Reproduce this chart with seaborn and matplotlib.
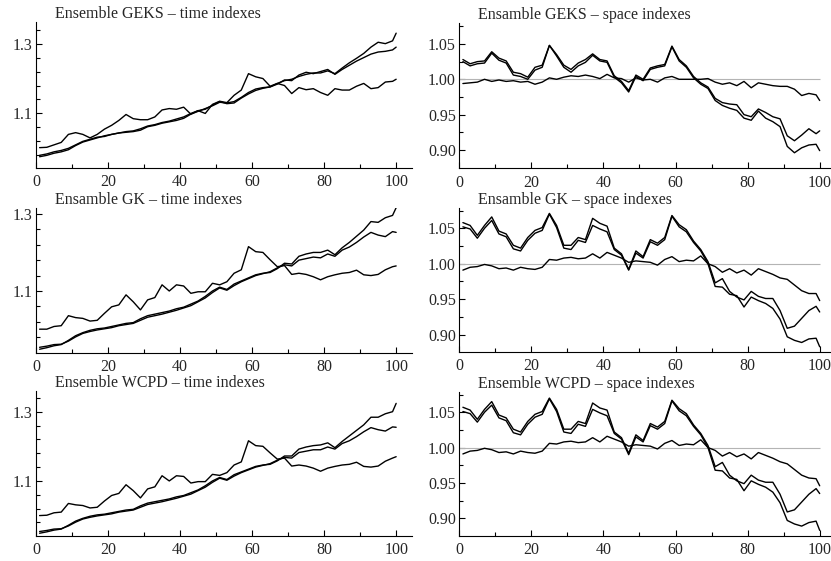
import numpy as np
import pandas as pd
import matplotlib
matplotlib.use("Agg")
import matplotlib.pyplot as plt
import seaborn as sns
from matplotlib.ticker import FixedLocator, FixedFormatter

sns.set_style("ticks")
plt.rcParams['font.family'] = ['Liberation Serif', 'DejaVu Serif']

# ---------------- data ----------------
T = list(range(1, 100, 2)) + [100]

GEKS_TIME_A = [1.002, 1.003, 1.010, 1.017, 1.040, 1.045, 1.040, 1.030, 1.040, 1.055,
               1.066, 1.080, 1.097, 1.085, 1.082, 1.082, 1.090, 1.110, 1.114, 1.112,
               1.118, 1.098, 1.108, 1.100, 1.126, 1.135, 1.131, 1.152, 1.167, 1.214,
               1.205, 1.200, 1.178, 1.186, 1.180, 1.157, 1.174, 1.168, 1.171, 1.160,
               1.152, 1.171, 1.167, 1.167, 1.178, 1.186, 1.171, 1.174, 1.190, 1.192, 1.198]
GEKS_TIME_B = [0.976, 0.980, 0.986, 0.990, 0.996, 1.008, 1.018, 1.024, 1.030, 1.036,
               1.040, 1.044, 1.046, 1.048, 1.052, 1.062, 1.066, 1.072, 1.076, 1.080,
               1.086, 1.098, 1.106, 1.114, 1.122, 1.132, 1.130, 1.134, 1.146, 1.160,
               1.170, 1.174, 1.176, 1.186, 1.194, 1.198, 1.206, 1.212, 1.216, 1.216,
               1.222, 1.214, 1.230, 1.245, 1.258, 1.272, 1.290, 1.304, 1.300, 1.308, 1.330]
GEKS_TIME_C = [0.980, 0.984, 0.990, 0.994, 1.000, 1.010, 1.020, 1.026, 1.032, 1.034,
               1.040, 1.044, 1.048, 1.050, 1.056, 1.064, 1.068, 1.074, 1.078, 1.084,
               1.090, 1.100, 1.108, 1.112, 1.124, 1.134, 1.128, 1.130, 1.144, 1.156,
               1.166, 1.172, 1.176, 1.184, 1.196, 1.194, 1.210, 1.218, 1.214, 1.220,
               1.226, 1.212, 1.226, 1.238, 1.250, 1.260, 1.270, 1.276, 1.278, 1.282, 1.290]

GEKS_SPACE_D = [0.994, 0.995, 0.996, 1.000, 0.997, 0.999, 0.997, 0.998, 0.996, 0.997,
                0.993, 0.996, 1.002, 1.000, 1.003, 1.005, 1.004, 1.006, 1.004, 1.001,
                1.007, 1.002, 1.001, 0.996, 1.002, 0.999, 1.000, 0.996, 1.002, 1.004,
                1.000, 1.000, 1.000, 1.000, 1.001, 0.996, 0.993, 0.995, 0.991, 0.997,
                0.988, 0.995, 0.993, 0.991, 0.990, 0.990, 0.986, 0.977, 0.980, 0.978, 0.970]
GEKS_SPACE_E = [1.028, 1.022, 1.025, 1.026, 1.039, 1.030, 1.026, 1.010, 1.008, 1.003,
                1.017, 1.020, 1.048, 1.035, 1.020, 1.014, 1.023, 1.028, 1.036, 1.028,
                1.026, 1.005, 0.997, 0.984, 1.006, 1.000, 1.016, 1.019, 1.021, 1.047,
                1.028, 1.019, 1.004, 0.995, 0.989, 0.973, 0.967, 0.965, 0.964, 0.950,
                0.947, 0.958, 0.953, 0.947, 0.944, 0.920, 0.913, 0.921, 0.930, 0.923, 0.927]
GEKS_SPACE_F = [1.025, 1.019, 1.022, 1.023, 1.037, 1.027, 1.023, 1.006, 1.004, 1.000,
                1.013, 1.017, 1.048, 1.033, 1.017, 1.010, 1.019, 1.024, 1.034, 1.026,
                1.024, 1.003, 0.995, 0.982, 1.004, 0.998, 1.014, 1.017, 1.019, 1.046,
                1.026, 1.017, 1.002, 0.993, 0.987, 0.970, 0.963, 0.959, 0.956, 0.945,
                0.942, 0.955, 0.945, 0.940, 0.933, 0.905, 0.896, 0.903, 0.907, 0.908, 0.899]

GK_TIME_A = [1.001, 1.001, 1.008, 1.010, 1.036, 1.031, 1.029, 1.022, 1.024, 1.042,
             1.059, 1.064, 1.090, 1.072, 1.051, 1.077, 1.083, 1.116, 1.100, 1.116,
             1.113, 1.094, 1.098, 1.098, 1.120, 1.116, 1.124, 1.146, 1.155, 1.215,
             1.202, 1.200, 1.181, 1.163, 1.166, 1.143, 1.146, 1.143, 1.137, 1.129,
             1.137, 1.142, 1.146, 1.148, 1.154, 1.142, 1.140, 1.143, 1.155, 1.163, 1.165]
GK_TIME_B = [0.949, 0.953, 0.958, 0.961, 0.972, 0.984, 0.992, 0.998, 1.002, 1.004,
             1.008, 1.012, 1.016, 1.018, 1.028, 1.036, 1.040, 1.044, 1.048, 1.054,
             1.058, 1.066, 1.074, 1.086, 1.100, 1.110, 1.104, 1.118, 1.126, 1.134,
             1.142, 1.146, 1.148, 1.158, 1.172, 1.170, 1.190, 1.196, 1.200, 1.200,
             1.206, 1.194, 1.212, 1.226, 1.242, 1.258, 1.280, 1.278, 1.290, 1.296, 1.316]
GK_TIME_C = [0.954, 0.957, 0.961, 0.962, 0.970, 0.981, 0.990, 0.995, 0.999, 1.002,
             1.005, 1.010, 1.013, 1.016, 1.024, 1.032, 1.036, 1.040, 1.045, 1.050,
             1.056, 1.062, 1.072, 1.082, 1.096, 1.108, 1.102, 1.114, 1.124, 1.132,
             1.140, 1.145, 1.150, 1.160, 1.168, 1.165, 1.180, 1.184, 1.188, 1.186,
             1.196, 1.190, 1.206, 1.214, 1.226, 1.240, 1.252, 1.245, 1.241, 1.254, 1.252]

GK_SPACE_D = [0.991, 0.995, 0.996, 0.999, 0.997, 0.993, 0.994, 0.991, 0.995, 0.993,
              0.992, 0.995, 1.006, 1.005, 1.008, 1.009, 1.007, 1.008, 1.014, 1.008,
              1.016, 1.012, 1.008, 1.002, 1.004, 1.003, 1.002, 0.998, 1.006, 1.010,
              1.003, 1.005, 1.004, 1.011, 1.000, 0.996, 0.988, 0.993, 0.987, 0.991,
              0.984, 0.993, 0.989, 0.985, 0.980, 0.978, 0.970, 0.962, 0.958, 0.958, 0.948]
GK_SPACE_E = [1.058, 1.054, 1.040, 1.054, 1.066, 1.046, 1.042, 1.026, 1.022, 1.037,
              1.047, 1.051, 1.071, 1.054, 1.026, 1.026, 1.037, 1.034, 1.064, 1.057,
              1.053, 1.022, 1.014, 0.992, 1.018, 1.010, 1.034, 1.029, 1.037, 1.068,
              1.055, 1.048, 1.032, 1.020, 1.003, 0.973, 0.979, 0.961, 0.953, 0.949,
              0.961, 0.954, 0.951, 0.951, 0.934, 0.909, 0.912, 0.923, 0.934, 0.940, 0.932]
GK_SPACE_F = [1.052, 1.049, 1.036, 1.050, 1.061, 1.042, 1.038, 1.021, 1.018, 1.033,
              1.043, 1.047, 1.070, 1.051, 1.022, 1.020, 1.033, 1.030, 1.054, 1.049,
              1.045, 1.020, 1.012, 0.991, 1.015, 1.008, 1.031, 1.026, 1.034, 1.067,
              1.052, 1.045, 1.030, 1.018, 1.000, 0.968, 0.967, 0.957, 0.955, 0.939,
              0.953, 0.948, 0.944, 0.937, 0.922, 0.897, 0.892, 0.889, 0.894, 0.895, 0.883]

WCPD_TIME_A = [1.000, 1.001, 1.008, 1.010, 1.035, 1.031, 1.029, 1.022, 1.024, 1.042,
               1.058, 1.064, 1.089, 1.072, 1.051, 1.077, 1.083, 1.115, 1.100, 1.115,
               1.113, 1.094, 1.098, 1.098, 1.119, 1.116, 1.124, 1.146, 1.155, 1.216,
               1.202, 1.200, 1.181, 1.163, 1.166, 1.143, 1.146, 1.143, 1.137, 1.128,
               1.137, 1.142, 1.146, 1.148, 1.154, 1.142, 1.140, 1.143, 1.157, 1.166, 1.170]
WCPD_TIME_B = [0.949, 0.953, 0.958, 0.961, 0.972, 0.984, 0.992, 0.998, 1.002, 1.004,
               1.008, 1.012, 1.016, 1.018, 1.028, 1.036, 1.040, 1.044, 1.048, 1.054,
               1.058, 1.066, 1.074, 1.086, 1.100, 1.110, 1.104, 1.118, 1.126, 1.134,
               1.142, 1.146, 1.148, 1.158, 1.172, 1.172, 1.192, 1.198, 1.202, 1.204,
               1.210, 1.196, 1.214, 1.230, 1.246, 1.262, 1.284, 1.284, 1.294, 1.300, 1.324]
WCPD_TIME_C = [0.954, 0.957, 0.961, 0.962, 0.970, 0.981, 0.990, 0.995, 0.999, 1.002,
               1.005, 1.010, 1.013, 1.016, 1.024, 1.032, 1.036, 1.040, 1.045, 1.050,
               1.056, 1.062, 1.072, 1.082, 1.096, 1.108, 1.102, 1.114, 1.124, 1.132,
               1.140, 1.145, 1.150, 1.160, 1.168, 1.166, 1.182, 1.186, 1.190, 1.190,
               1.198, 1.192, 1.208, 1.216, 1.228, 1.242, 1.254, 1.248, 1.244, 1.256, 1.255]

WCPD_SPACE_D = [0.991, 0.995, 0.996, 0.999, 0.997, 0.993, 0.994, 0.991, 0.995, 0.993,
                0.992, 0.995, 1.006, 1.005, 1.008, 1.009, 1.007, 1.008, 1.014, 1.008,
                1.016, 1.012, 1.008, 1.002, 1.004, 1.003, 1.002, 0.998, 1.006, 1.010,
                1.003, 1.005, 1.004, 1.011, 1.000, 0.996, 0.988, 0.993, 0.987, 0.991,
                0.984, 0.993, 0.989, 0.985, 0.980, 0.977, 0.969, 0.961, 0.957, 0.956, 0.946]
WCPD_SPACE_E = [1.057, 1.053, 1.040, 1.054, 1.065, 1.046, 1.042, 1.026, 1.022, 1.037,
                1.047, 1.051, 1.070, 1.054, 1.026, 1.026, 1.037, 1.034, 1.063, 1.056,
                1.053, 1.022, 1.014, 0.992, 1.018, 1.010, 1.034, 1.029, 1.037, 1.067,
                1.055, 1.048, 1.032, 1.020, 1.003, 0.973, 0.979, 0.961, 0.953, 0.949,
                0.961, 0.954, 0.951, 0.951, 0.934, 0.909, 0.912, 0.923, 0.934, 0.942, 0.935]
WCPD_SPACE_F = [1.051, 1.048, 1.036, 1.050, 1.060, 1.042, 1.038, 1.021, 1.018, 1.033,
                1.043, 1.047, 1.069, 1.051, 1.022, 1.020, 1.033, 1.030, 1.054, 1.049,
                1.045, 1.020, 1.012, 0.990, 1.015, 1.008, 1.031, 1.026, 1.034, 1.066,
                1.052, 1.045, 1.030, 1.018, 1.000, 0.968, 0.967, 0.957, 0.955, 0.939,
                0.953, 0.948, 0.944, 0.937, 0.922, 0.897, 0.892, 0.889, 0.894, 0.896, 0.883]

BASELINE = 1.0

TITLES = ["Ensemble GEKS \u2013 time indexes", "Ensamble GEKS \u2013 space indexes",
          "Ensamble GK \u2013 time indexes", "Ensamble GK \u2013 space indexes",
          "Ensemble WCPD \u2013 time indexes", "Ensemble WCPD \u2013 space indexes"]

X_MAJOR = [0, 20, 40, 60, 80, 100]
X_MINOR = [10, 30, 50, 70, 90]
TIME_MAJOR = [1.1, 1.3]
TIME_MAJOR_LABELS = ["1.1", "1.3"]
TIME_MINOR = [0.98, 1.02, 1.06, 1.14, 1.18, 1.22, 1.26, 1.34]
SPACE_MAJOR = [0.90, 0.95, 1.00, 1.05]
SPACE_MAJOR_LABELS = ["0.90", "0.95", "1.00", "1.05"]
SPACE_MINOR = [0.925, 0.975, 1.025, 1.075]

# ---------------- layout (pixels of the 831x561 canvas) ----------------
W, H = 831, 561
panels = [
    ([GEKS_TIME_A, GEKS_TIME_B, GEKS_TIME_C], "time", (36, 22, 412, 168), (0.9437, 1.362), 104.4),
    ([GEKS_SPACE_D, GEKS_SPACE_E, GEKS_SPACE_F], "space", (459.3, 23, 830.5, 168.3), (0.874, 1.0797), 103.0),
    ([GK_TIME_A, GK_TIME_B, GK_TIME_C], "time", (36, 207.7, 412, 352.7), (0.940, 1.316), 104.4),
    ([GK_SPACE_D, GK_SPACE_E, GK_SPACE_F], "space", (459.3, 207.7, 830.5, 351.7), (0.876, 1.079), 103.0),
    ([WCPD_TIME_A, WCPD_TIME_B, WCPD_TIME_C], "time", (36, 390.7, 412, 536), (0.941, 1.3606), 104.4),
    ([WCPD_SPACE_D, WCPD_SPACE_E, WCPD_SPACE_F], "space", (459.3, 391.7, 830.5, 536), (0.875, 1.079), 103.0),
]

fig = plt.figure(figsize=(W / 100, H / 100), dpi=100)
FS = 11.5

for (series, kind, (l, t, r, b), ylim, xmax), title in zip(panels, TITLES):
    ax = fig.add_axes([l / W, 1 - b / H, (r - l) / W, (b - t) / H])
    df = pd.DataFrame({
        "t": T * len(series),
        "value": [v for s in series for v in s],
        "series": [i for i, s in enumerate(series) for _ in s],
    })
    if kind == "space":
        ax.hlines(BASELINE, 0, T[-1], color="#b4b4b4", lw=0.8, zorder=1)
    sns.lineplot(data=df, x="t", y="value", units="series", estimator=None,
                 color="black", lw=1.0, ax=ax, legend=False, zorder=3)
    ax.set_xlim(0, xmax)
    ax.set_ylim(*ylim)
    ax.set_xlabel("")
    ax.set_ylabel("")
    ax.xaxis.set_major_locator(FixedLocator(X_MAJOR))
    ax.xaxis.set_major_formatter(FixedFormatter([str(v) for v in X_MAJOR]))
    ax.xaxis.set_minor_locator(FixedLocator(X_MINOR))
    if kind == "time":
        ax.yaxis.set_major_locator(FixedLocator(TIME_MAJOR))
        ax.yaxis.set_major_formatter(FixedFormatter(TIME_MAJOR_LABELS))
        ax.yaxis.set_minor_locator(FixedLocator(TIME_MINOR))
    else:
        ax.yaxis.set_major_locator(FixedLocator(SPACE_MAJOR))
        ax.yaxis.set_major_formatter(FixedFormatter(SPACE_MAJOR_LABELS))
        ax.yaxis.set_minor_locator(FixedLocator(SPACE_MINOR))
    for sp in ("top", "right"):
        ax.spines[sp].set_visible(False)
    for sp in ("left", "bottom"):
        ax.spines[sp].set_linewidth(0.8)
        ax.spines[sp].set_color("black")
    ax.tick_params(which="major", direction="in", length=4.5, width=0.8,
                   labelsize=FS, color="black")
    ax.tick_params(which="minor", direction="in", length=2.6, width=0.8, color="black")
    ax.tick_params(axis="x", which="major", pad=4.5)
    ax.tick_params(axis="y", which="major", pad=2.5)
    ax.set_facecolor("white")
    ax.annotate(title, xy=(0, 1), xycoords="axes fraction", xytext=(13.7, 2.7),
                textcoords="offset points", ha="left", va="baseline", fontsize=FS,
                annotation_clip=False)

fig.savefig("out.png", dpi=100, facecolor="white")
